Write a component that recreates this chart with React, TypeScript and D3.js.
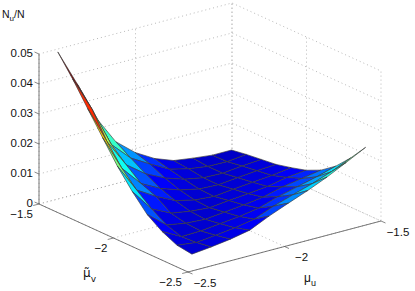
import React from 'react';
import * as d3 from 'd3';

const uGrid = [-2.445, -2.345, -2.245, -2.145, -2.045, -1.945, -1.845, -1.745, -1.645, -1.545];
const vGrid = [-2.455, -2.355, -2.255, -2.155, -2.055, -1.955, -1.855, -1.755, -1.655, -1.555];

// rows follow vGrid, columns follow uGrid
const density = [
  [0.004, 0.0047, 0.0056, 0.0069, 0.0099, 0.0125, 0.015, 0.0178, 0.021, 0.0243],
  [0.0047, 0.0039, 0.0046, 0.0054, 0.0066, 0.0092, 0.0113, 0.0133, 0.0156, 0.0185],
  [0.007, 0.0036, 0.0038, 0.0045, 0.0052, 0.0063, 0.0084, 0.01, 0.0116, 0.0135],
  [0.0104, 0.0052, 0.0041, 0.0037, 0.0044, 0.0051, 0.006, 0.0077, 0.0088, 0.0099],
  [0.0158, 0.0083, 0.0052, 0.0041, 0.0036, 0.0043, 0.0049, 0.0056, 0.0069, 0.0076],
  [0.022, 0.0123, 0.0085, 0.0054, 0.0039, 0.0034, 0.0041, 0.0047, 0.0053, 0.0062],
  [0.0293, 0.0173, 0.0105, 0.0072, 0.005, 0.0036, 0.0033, 0.004, 0.0046, 0.005],
  [0.0367, 0.024, 0.0145, 0.0098, 0.0067, 0.0046, 0.0034, 0.0032, 0.0039, 0.0044],
  [0.0442, 0.0325, 0.019, 0.0128, 0.0091, 0.0057, 0.0041, 0.0032, 0.0031, 0.0038],
  [0.051, 0.0387, 0.0255, 0.016, 0.0107, 0.007, 0.0046, 0.0037, 0.003, 0.003],
];

const uTicks = [-2.5, -2, -1.5];
const vTicks = [-2.5, -2, -1.5];
const zTicks = [0, 0.01, 0.02, 0.03, 0.04, 0.05];
const zTickLabels = ['0', '0.01', '0.02', '0.03', '0.04', '0.05'];
const uTickLabels = ['\u22122.5', '\u22122', '\u22121.5'];
const vTickLabels = ['\u22122.5', '\u22122', '\u22121.5'];

const jetStops = [0, 0.17, 0.38, 0.625, 0.875, 1];
const jetColors = ['#0000a0', '#0000ff', '#00ffff', '#ffff00', '#ff0000', '#800000'];

const uToX = d3.scaleLinear().domain([-2.5, -1.5]).range([0, 193]);
const uToY = d3.scaleLinear().domain([-2.5, -1.5]).range([0, -51]);
const vToX = d3.scaleLinear().domain([-2.5, -1.5]).range([0, -149]);
const vToY = d3.scaleLinear().domain([-2.5, -1.5]).range([0, -68]);
const zToPx = d3.scaleLinear().domain([0, 0.05]).range([0, 150]);

const colorT = d3.scaleLinear().domain([0, 0.044]).range([0, 1]).clamp(true);
const jet = d3.scaleLinear<string>().domain(jetStops).range(jetColors);

function project(u: number, v: number, z: number): [number, number] {
  return [188 + uToX(u) + vToX(v), 272 + uToY(u) + vToY(v) - zToPx(z)];
}

const path = d3.line<[number, number]>();

const axisFont = 'Liberation Sans, Arial, sans-serif';

export default function App() {
  const uMin = -2.5, uMax = -1.5, vMin = -2.5, vMax = -1.5, zMax = 0.05;

  const grid: [number, number][][] = [];
  // back wall levels and floor
  zTicks.forEach((z) => {
    grid.push([project(uMin, vMax, z), project(uMax, vMax, z), project(uMax, vMin, z)]);
  });
  uTicks.forEach((u) => {
    grid.push([project(u, vMin, 0), project(u, vMax, 0), project(u, vMax, zMax)]);
  });
  vTicks.forEach((v) => {
    grid.push([project(uMin, v, 0), project(uMax, v, 0), project(uMax, v, zMax)]);
  });

  const facets: { d: string; fill: string; key: string }[] = [];
  for (let j = vGrid.length - 2; j >= 0; j--) {
    for (let i = uGrid.length - 2; i >= 0; i--) {
      const pts = [
        project(uGrid[i], vGrid[j], density[j][i]),
        project(uGrid[i + 1], vGrid[j], density[j][i + 1]),
        project(uGrid[i + 1], vGrid[j + 1], density[j + 1][i + 1]),
        project(uGrid[i], vGrid[j + 1], density[j + 1][i]),
        project(uGrid[i], vGrid[j], density[j][i]),
      ];
      facets.push({
        d: path(pts) as string,
        // flat shading, colour taken from the first corner of the facet
        fill: jet(colorT(density[j][i])),
        key: `${i}-${j}`,
      });
    }
  }

  const axisColor = '#555';
  const frame = [
    [project(uMin, vMax, zMax), project(uMin, vMax, 0)],
    [project(uMin, vMax, 0), project(uMin, vMin, 0)],
    [project(uMin, vMin, 0), project(uMax, vMin, 0)],
  ] as [number, number][][];

  return (
    <svg
      width={415}
      height={291}
      style={{ position: 'absolute', left: 0, top: 0, background: '#fff' }}
      fontFamily={axisFont}
    >
      {grid.map((g, i) => (
        <path key={i} d={path(g) as string} fill="none" stroke="#999" strokeWidth={0.7} strokeDasharray="1 3" />
      ))}
      {frame.map((g, i) => (
        <path key={i} d={path(g) as string} fill="none" stroke={axisColor} strokeWidth={0.8} />
      ))}

      {zTicks.map((z, i) => {
        const [x, y] = project(uMin, vMax, z);
        return (
          <g key={z}>
            <line x1={x} y1={y} x2={x - 4.5} y2={y - 2} stroke={axisColor} strokeWidth={0.7} />
            <text x={33} y={y + 3} textAnchor="end" fontSize={11.5} fill="#111">
              {zTickLabels[i]}
            </text>
          </g>
        );
      })}
      {vTicks.map((v, i) => {
        const [x, y] = project(uMin, v, 0);
        return (
          <g key={v}>
            <line x1={x} y1={y} x2={x - 5.8} y2={y + 1.5} stroke={axisColor} strokeWidth={0.7} />
            <text x={x - 6} y={y + 14} textAnchor="end" fontSize={11.5} fill="#111">
              {vTickLabels[i]}
            </text>
          </g>
        );
      })}
      {uTicks.map((u, i) => {
        const [x, y] = project(u, vMin, 0);
        return (
          <g key={u}>
            <line x1={x} y1={y} x2={x + 4.5} y2={y + 2} stroke={axisColor} strokeWidth={0.7} />
            <text x={x + 17} y={y + 14.5} textAnchor="middle" fontSize={11.5} fill="#111">
              {uTickLabels[i]}
            </text>
          </g>
        );
      })}

      {facets.map((f) => (
        <path key={f.key} d={f.d} fill={f.fill} stroke="#3a3a3a" strokeWidth={0.65} strokeLinejoin="round" />
      ))}

      <text x={2} y={18} fontSize={10.5} fill="#111">
        N<tspan dy={3} fontSize={8}>u</tspan><tspan dy={-3}>/N</tspan>
      </text>
      <text x={83} y={277} fontSize={12} fontFamily="DejaVu Sans" fill="#111">
        {'\u03bc\u0303'}<tspan dy={5} fontSize={9}>v</tspan>
      </text>
      <text x={304} y={282} fontSize={12} fill="#111">
        {'\u03bc'}<tspan dy={4} fontSize={9}>u</tspan>
      </text>
    </svg>
  );
}
